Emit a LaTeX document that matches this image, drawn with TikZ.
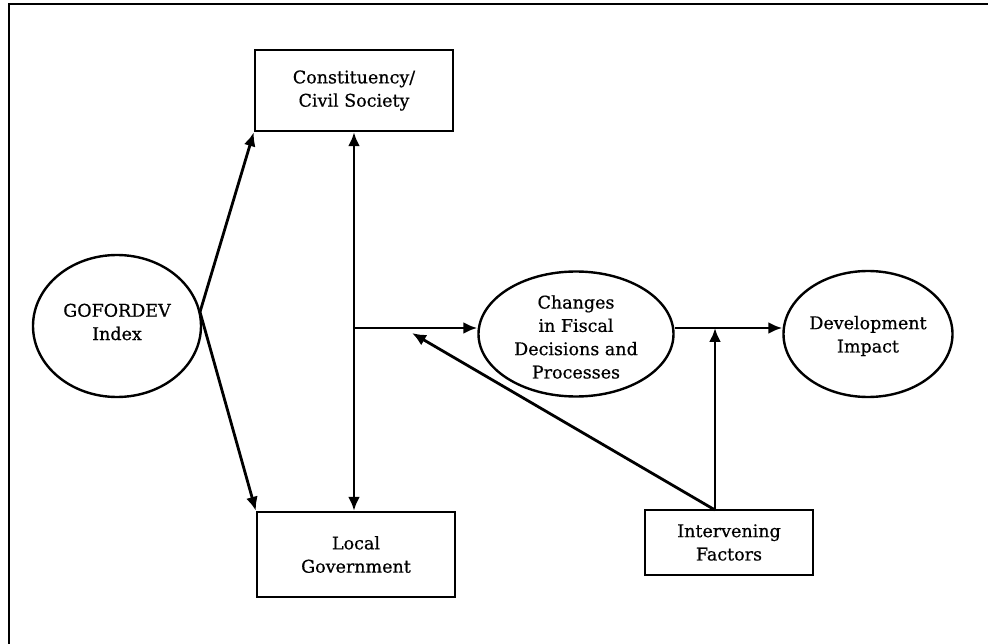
\documentclass[tikz,border=0pt]{standalone}
\usepackage{fontspec}
\setmainfont{DejaVu Serif}
\newfontfamily\heavyserif{DejaVu Serif}[FakeBold=0.6]
\usetikzlibrary{arrows.meta,shapes.geometric}
\begin{document}
\begin{tikzpicture}[x=1pt,y=-1pt,
  lbl/.style={font=\heavyserif\fontsize{17.5}{23.3}\selectfont, align=center, inner sep=0pt},
  box/.style={lbl, draw, line width=2.4pt},
  oval/.style={draw, ellipse, inner sep=0pt, line width=2.4pt},
  tip/.tip={Latex[length=14pt,width=12pt]},
  conn/.style={line width=2.8pt, -tip}]
\useasboundingbox (0,0) rectangle (988,644);
\draw[line width=2.4pt] (988,4) -- (9,4) -- (9,644);
\node[box, minimum width=198pt, minimum height=81pt] (cs) at (354,90.5) {Constituency/\\Civil Society};
\node[box, minimum width=198pt, minimum height=85pt] (lg) at (356,554.5) {Local\\Government};
\node[box, minimum width=168pt, minimum height=65pt] (if) at (729,542.5) {Intervening\\Factors};
\node[oval, minimum width=168pt, minimum height=142pt] (go) at (117,326) {};
\node[lbl] (got) at (117,322) {GOFORDEV\\Index};
\node[oval, minimum width=195pt, minimum height=125pt] (ch) at (576,334) {};
\node[lbl] (cht) at (576,337) {Changes\\in Fiscal\\Decisions and\\Processes};
\node[oval, minimum width=169pt, minimum height=126pt] (di) at (868,334) {};
\node[lbl] (dit) at (868,336) {Development\\Impact};
\coordinate (v) at (200,312);
\coordinate (j) at (354,328);
\coordinate (m) at (715,328);
\coordinate (k) at (412,333);
\coordinate (ift) at (715,510);
\draw[conn] (v) -- (cs.south west);
\draw[conn] (v) -- (lg.north west);
\draw[conn, tip-tip] (cs.south -| j) -- (lg.north -| j);
\draw[conn] (j) -- (j -| ch.west);
\draw[conn] (ch.east |- j) -- (di.west |- j);
\draw[conn] (ift) -- (m);
\draw[conn] (ift) -- (k);
\end{tikzpicture}
\end{document}
